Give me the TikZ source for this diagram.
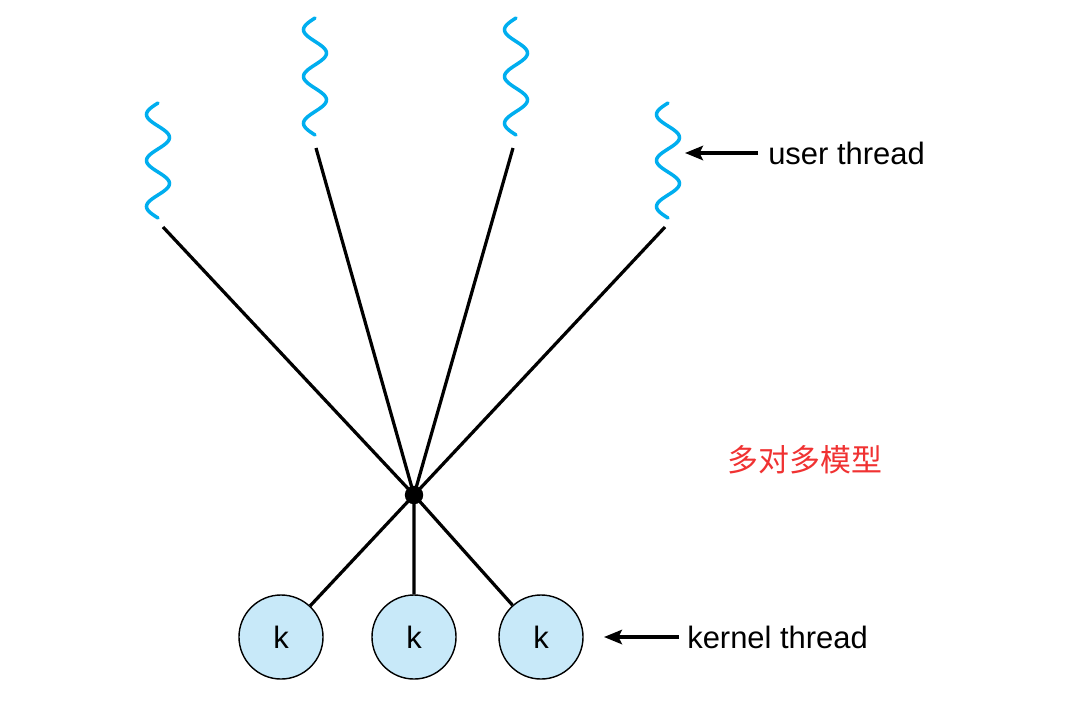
\documentclass[tikz,border=0pt]{standalone}
\usepackage{fontspec}
\setmainfont{Liberation Sans}
\newfontfamily\cjk{Noto Sans CJK SC}
\usetikzlibrary{arrows.meta}
\definecolor{threadblue}{RGB}{0,174,239}
\definecolor{kernelfill}{RGB}{200,233,249}
\definecolor{modelred}{RGB}{240,50,50}
\tikzstyle{thread_wave} = [threadblue, line width=2.5pt, line cap=round]
\tikzstyle{node_kernel} = [circle, draw, line width=1pt, fill=kernelfill, inner sep=0pt, minimum size=2.1cm, font=\fontsize{22}{26}\selectfont]
\tikzstyle{node_hub} = [circle, fill, inner sep=0pt, minimum size=0.46cm]
\tikzstyle{node_label} = [anchor=west, inner ysep=0pt, font=\fontsize{22}{26}\selectfont]
\tikzstyle{edge_normal} = [line width=2.3pt]
\tikzstyle{edge_pointer} = [line width=2.3pt, -{Stealth[length=0.45cm, width=0.36cm, inset=0.09cm]}]

\begin{document}
\begin{tikzpicture}[x=0.025cm, y=-0.025cm]
\useasboundingbox (0,0) rectangle (1076,717);
% user threads
\draw[thread_wave] plot[domain=0:900, samples=90, smooth] ({158-11.5*sin(\x)}, {103+\x/900*115});
\draw[thread_wave] plot[domain=0:900, samples=90, smooth] ({315-11.5*sin(\x)}, {18+\x/900*117});
\draw[thread_wave] plot[domain=0:900, samples=90, smooth] ({516-11.5*sin(\x)}, {18+\x/900*117});
\draw[thread_wave] plot[domain=0:900, samples=90, smooth] ({668-11.5*sin(\x)}, {103+\x/900*115});
\coordinate (U1) at (163,227);
\coordinate (U2) at (316,148);
\coordinate (U3) at (513,148);
\coordinate (U4) at (665,227);
% hub and kernel threads
\node (H) at (414,495) [node_hub] {};
\node (K1) at (281,637) [node_kernel] {k};
\node (K2) at (414,637) [node_kernel] {k};
\node (K3) at (541,637) [node_kernel] {k};

\draw[edge_normal] (U1)--(H.center) (U2)--(H.center) (U3)--(H.center) (U4)--(H.center);
\draw[edge_normal] (H.center)--(K1) (H.center)--(K2) (H.center)--(K3);

% labels
\node (UT) at (758,153) [node_label, inner xsep=0.25cm] {user thread};
\coordinate (UTtip) at (685,153);
\draw[edge_pointer] (UT)--(UTtip);
\node (KT) at (679,637) [node_label, inner xsep=0.2cm] {kernel thread};
\coordinate (KTtip) at (604,637);
\draw[edge_pointer] (KT)--(KTtip);
\node (M) at (805,460) [text=modelred, font=\fontsize{22}{26}\selectfont] {\cjk 多对多模型};
\end{tikzpicture}
\end{document}
